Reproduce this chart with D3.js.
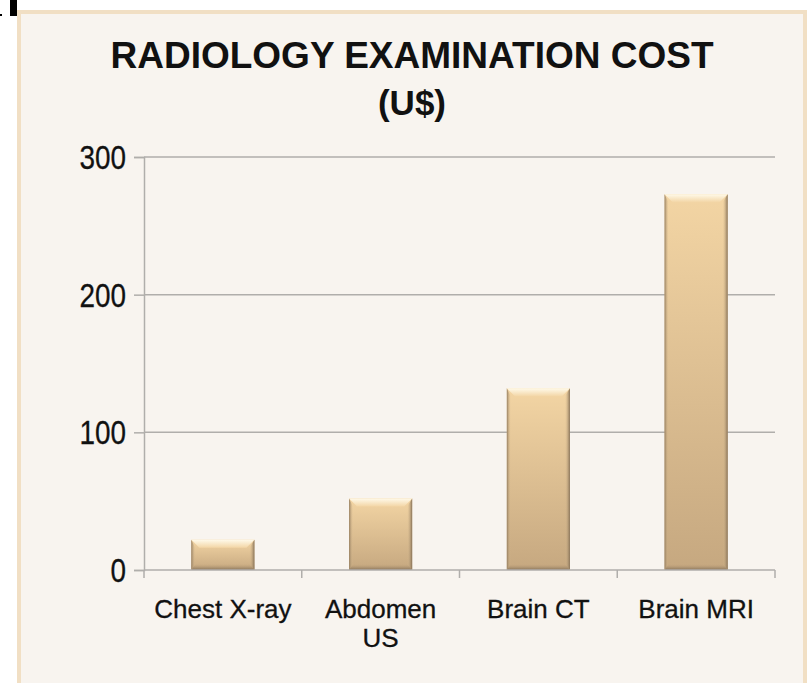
<!DOCTYPE html>
<html>
<head>
<meta charset="utf-8">
<script src="https://cdn.jsdelivr.net/npm/d3@7"></script>
<style>
  html, body { margin: 0; padding: 0; background: #ffffff; }
  svg { display: block; font-family: "Liberation Sans", Arial, sans-serif; }
</style>
</head>
<body>
<svg id="chart" width="810" height="683"></svg>
<script>
// data
const categories = ["Chest X-ray", "Abdomen US", "Brain CT", "Brain MRI"];
const costs = [22, 52, 132, 273];
const yTicks = [0, 100, 200, 300];
const titleLines = ["RADIOLOGY EXAMINATION COST", "(U$)"];

const svg = d3.select("#chart");

// plot area
const plotLeft = 144, plotRight = 775, plotTop = 157, plotBottom = 570;

// panel with light tan border
svg.append("rect")
    .attr("x", 19).attr("y", 12)
    .attr("width", 786).attr("height", 680)
    .attr("fill", "#f8f4ef")
    .attr("stroke", "#f1dfc4")
    .attr("stroke-width", 4);

// little black mark on the top-left corner
svg.append("rect")
    .attr("x", 10).attr("y", 0)
    .attr("width", 7).attr("height", 16)
    .attr("fill", "#000");
svg.append("rect")
    .attr("x", 0).attr("y", 14)
    .attr("width", 2).attr("height", 2)
    .attr("fill", "#000");

// title
svg.append("text")
    .attr("x", 412).attr("y", 68)
    .attr("text-anchor", "middle")
    .attr("font-size", 37)
    .attr("font-weight", "bold")
    .attr("textLength", 603)
    .attr("lengthAdjust", "spacingAndGlyphs")
    .attr("fill", "#111")
    .text(titleLines[0]);
svg.append("text")
    .attr("x", 412).attr("y", 115)
    .attr("text-anchor", "middle")
    .attr("font-size", 35)
    .attr("font-weight", "bold")
    .attr("fill", "#111")
    .text(titleLines[1]);

// scales
const x = d3.scaleBand()
    .domain(categories)
    .range([plotLeft, plotRight])
    .paddingInner(0.6)
    .paddingOuter(0.3);

const xEdges = d3.scalePoint()
    .domain(d3.range(categories.length + 1))
    .range([plotLeft, plotRight]);

const y = d3.scaleLinear()
    .domain([0, 300])
    .range([plotBottom, plotTop]);

// gridlines
svg.append("g")
    .selectAll("line")
    .data(yTicks.filter(d => d > 0))
    .join("line")
    .attr("x1", plotLeft).attr("x2", plotRight)
    .attr("y1", d => y(d)).attr("y2", d => y(d))
    .attr("stroke", "#b0aeab")
    .attr("stroke-width", 1.5);

// y axis
const yAxis = svg.append("g")
    .attr("transform", `translate(${plotLeft},0)`)
    .call(d3.axisLeft(y).tickValues(yTicks).tickSize(10).tickPadding(8));
yAxis.select(".domain").attr("stroke", "#b0aeab").attr("stroke-width", 1.5);
yAxis.selectAll(".tick line").attr("stroke", "#b0aeab").attr("stroke-width", 1.5);
yAxis.selectAll(".tick text")
    .attr("font-size", 34)
    .attr("font-family", "Liberation Sans, Arial, sans-serif")
    .attr("fill", "#111")
    .attr("stroke", "#111")
    .attr("stroke-width", 0.3)
    .attr("dy", "0.34em")
    .each(function() {
        // the reference digits are a bit narrower than Arial
        const w = this.getComputedTextLength();
        d3.select(this).attr("textLength", w * 0.82).attr("lengthAdjust", "spacingAndGlyphs");
    });

// bar gradients
const defs = svg.append("defs");
const barFill = defs.append("linearGradient")
    .attr("id", "barBody").attr("x1", 0).attr("y1", 0).attr("x2", 0).attr("y2", 1);
barFill.append("stop").attr("offset", "0%").attr("stop-color", "#f3d5a4");
barFill.append("stop").attr("offset", "100%").attr("stop-color", "#c6a880");

const topBevel = defs.append("linearGradient")
    .attr("id", "barTop").attr("x1", 0).attr("y1", 0).attr("x2", 0).attr("y2", 1);
topBevel.append("stop").attr("offset", "0%").attr("stop-color", "#fffaea");
topBevel.append("stop").attr("offset", "100%").attr("stop-color", "#f3d6a6");

const sideL = defs.append("linearGradient")
    .attr("id", "barLeft").attr("x1", 0).attr("y1", 0).attr("x2", 1).attr("y2", 0);
sideL.append("stop").attr("offset", "0%").attr("stop-color", "#947d5f");
sideL.append("stop").attr("offset", "100%").attr("stop-color", "#d9bd93").attr("stop-opacity", 0);

const sideR = defs.append("linearGradient")
    .attr("id", "barRight").attr("x1", 1).attr("y1", 0).attr("x2", 0).attr("y2", 0);
sideR.append("stop").attr("offset", "0%").attr("stop-color", "#857056");
sideR.append("stop").attr("offset", "100%").attr("stop-color", "#d9bd93").attr("stop-opacity", 0);

const bottomBevel = defs.append("linearGradient")
    .attr("id", "barBottom").attr("x1", 0).attr("y1", 1).attr("x2", 0).attr("y2", 0);
bottomBevel.append("stop").attr("offset", "0%").attr("stop-color", "#85725a");
bottomBevel.append("stop").attr("offset", "100%").attr("stop-color", "#c0a27b").attr("stop-opacity", 0);

const bars = svg.append("g")
    .selectAll("g")
    .data(categories.map((c, i) => ({ cat: c, value: costs[i] })))
    .join("g");

const bv = 8; // bevel size

bars.append("rect")
    .attr("x", d => x(d.cat))
    .attr("y", d => y(d.value))
    .attr("width", x.bandwidth())
    .attr("height", d => plotBottom - y(d.value))
    .attr("fill", "url(#barBody)");

// top bevel
bars.append("polygon")
    .attr("points", d => {
        const x0 = x(d.cat), x1 = x0 + x.bandwidth(), y0 = y(d.value);
        return [[x0, y0], [x1, y0], [x1 - bv, y0 + bv], [x0 + bv, y0 + bv]].join(" ");
    })
    .attr("fill", "url(#barTop)");

// left side
bars.append("polygon")
    .attr("points", d => {
        const x0 = x(d.cat), y0 = y(d.value);
        return [[x0, y0], [x0 + 4, y0 + bv], [x0 + 4, plotBottom - 5], [x0, plotBottom]].join(" ");
    })
    .attr("fill", "url(#barLeft)");

// right side
bars.append("polygon")
    .attr("points", d => {
        const x1 = x(d.cat) + x.bandwidth(), y0 = y(d.value);
        return [[x1, y0], [x1 - 5, y0 + bv], [x1 - 5, plotBottom - 5], [x1, plotBottom]].join(" ");
    })
    .attr("fill", "url(#barRight)");

// bottom bevel
bars.append("polygon")
    .attr("points", d => {
        const x0 = x(d.cat), x1 = x0 + x.bandwidth();
        return [[x0, plotBottom], [x1, plotBottom], [x1 - 5, plotBottom - 6], [x0 + 4, plotBottom - 6]].join(" ");
    })
    .attr("fill", "url(#barBottom)");

// x axis baseline and category boundary ticks
svg.append("line")
    .attr("x1", plotLeft).attr("x2", plotRight)
    .attr("y1", plotBottom).attr("y2", plotBottom)
    .attr("stroke", "#b0aeab")
    .attr("stroke-width", 1.5);

svg.append("g")
    .selectAll("line")
    .data(d3.range(categories.length + 1))
    .join("line")
    .attr("x1", d => xEdges(d)).attr("x2", d => xEdges(d))
    .attr("y1", plotBottom).attr("y2", plotBottom + 8)
    .attr("stroke", "#b0aeab")
    .attr("stroke-width", 1.5);

// category labels (wrap the one that doesn't fit)
const labelLines = { "Chest X-ray": ["Chest X-ray"], "Abdomen US": ["Abdomen", "US"],
                     "Brain CT": ["Brain CT"], "Brain MRI": ["Brain MRI"] };

svg.append("g")
    .selectAll("text")
    .data(categories)
    .join("text")
    .attr("x", d => x(d) + x.bandwidth() / 2)
    .attr("y", 618)
    .attr("text-anchor", "middle")
    .attr("font-size", 26)
    .attr("fill", "#111")
    .attr("stroke", "#111")
    .attr("stroke-width", 0.3)
    .each(function(d) {
        d3.select(this).selectAll("tspan")
            .data(labelLines[d])
            .join("tspan")
            .attr("x", x(d) + x.bandwidth() / 2)
            .attr("dy", (t, i) => i === 0 ? 0 : 29)
            .text(t => t);
    });
</script>
</body>
</html>
